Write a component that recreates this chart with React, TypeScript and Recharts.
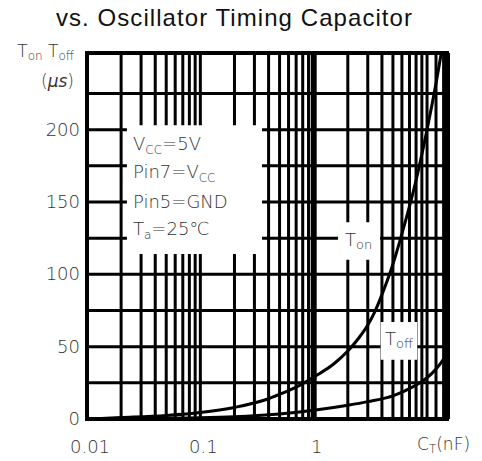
import React from "react";
import {
  LineChart,
  Line,
  XAxis,
  YAxis,
  CartesianGrid,
  ReferenceArea,
  ReferenceLine,
} from "recharts";

// Capacitance C_T (nF) sample points and timing values (µs)
const tOnCap = [0.01, 0.02, 0.05, 0.1, 0.2, 0.4, 0.5, 0.7, 1, 1.5, 2, 2.5, 3, 3.5, 4, 5, 6, 8, 10, 12, 14];
const tOnValues = [0, 1, 2.5, 4.5, 8, 14, 17, 22, 29, 38, 47, 56, 65, 75, 86, 107, 128, 165, 200, 232, 262];

const tOffCap = [0.01, 0.1, 0.2, 0.5, 1, 2, 3, 5, 7, 9, 10, 12, 14, 15];
const tOffValues = [0, 0.8, 1.5, 3.5, 6, 9.5, 12, 16, 21, 26, 28.5, 34.5, 41.5, 45.5];

const xTicks = [
  0.01, 0.02, 0.03, 0.04, 0.05, 0.06, 0.07, 0.08, 0.09,
  0.1, 0.2, 0.3, 0.4, 0.5, 0.6, 0.7, 0.8, 0.9,
  1, 2, 3, 4, 5, 6, 7, 8, 9, 10, 12, 14,
];
const xLabelTicks = [0.01, 0.1, 1];
const xLabels = ["0.01", "0.1", "1"];

const yTicks = [0, 25, 50, 75, 100, 125, 150, 175, 200, 225];
const yLabelTicks = [0, 50, 100, 150, 200];

const xDomain: [number, number] = [0.01, 15];
const yDomain: [number, number] = [0, 253];

const tOnData = tOnCap.map((c, i) => ({ c, v: tOnValues[i] }));
const tOffData = tOffCap.map((c, i) => ({ c, v: tOffValues[i] }));

const FONT = "DejaVu Sans, sans-serif";
const GRAY = "#333";
const WEIGHT = 300;

const XTick = (props: any) => {
  const { x, y, payload } = props;
  const idx = xLabelTicks.indexOf(payload.value);
  if (idx < 0) return <g />;
  return (
    <text x={x + 3} y={y + 26} textAnchor="middle" fontFamily={FONT} fontWeight={WEIGHT} fontSize={18} fill={GRAY}>
      {xLabels[idx]}
    </text>
  );
};

const YTick = (props: any) => {
  const { x, y, payload } = props;
  if (!yLabelTicks.includes(payload.value)) return <g />;
  return (
    <text x={x + 1} y={y} dy={6} textAnchor="end" fontFamily={FONT} fontWeight={WEIGHT} fontSize={18} fill={GRAY}>
      {payload.value}
    </text>
  );
};

export default function App() {
  return (
    <div style={{ position: "absolute", left: 0, top: 0, width: 482, height: 461, background: "#fff" }}>
      <LineChart
        width={482}
        height={461}
        margin={{ top: 53, right: 35, bottom: 0, left: 0 }}
      >
        <CartesianGrid stroke="#000" strokeWidth={3} />
        <XAxis
          dataKey="c"
          type="number"
          scale="log"
          domain={xDomain}
          ticks={xTicks}
          interval={0}
          allowDataOverflow
          axisLine={false}
          tickLine={false}
          height={42}
          tick={<XTick />}
        />
        <YAxis
          type="number"
          domain={yDomain}
          ticks={yTicks}
          interval={0}
          allowDataOverflow
          axisLine={false}
          tickLine={false}
          width={87}
          tick={<YTick />}
        />
        <ReferenceArea x1={0.0225} x2={0.35} y1={114} y2={203} fill="#fff" fillOpacity={1} stroke="none" />
        <ReferenceArea x1={1.64} x2={3.85} y1={110} y2={136} fill="#fff" fillOpacity={1} stroke="none" />
        <ReferenceArea x1={3.9} x2={8.2} y1={41} y2={67} fill="#fff" fillOpacity={1} stroke="none" />
        <ReferenceLine x={1} stroke="#000" strokeWidth={6} />
        <ReferenceArea x1={xDomain[0]} x2={xDomain[1]} y1={yDomain[0]} y2={yDomain[1]} fill="none" stroke="#000" strokeWidth={4} />
        <ReferenceLine x={15} stroke="#000" strokeWidth={6} />
        <Line
          data={tOnData}
          dataKey="v"
          type="monotone"
          stroke="#000"
          strokeWidth={3}
          dot={false}
          isAnimationActive={false}
        />
        <Line
          data={tOffData}
          dataKey="v"
          type="monotone"
          stroke="#000"
          strokeWidth={3}
          dot={false}
          isAnimationActive={false}
        />
      </LineChart>
      <svg
        width={482}
        height={461}
        style={{ position: "absolute", left: 0, top: 0, pointerEvents: "none" }}
      >
        <text
          x={234}
          y={26}
          textAnchor="middle"
          fontFamily="Liberation Sans, Arial, sans-serif"
          fontSize={24}
          textLength={356}
          lengthAdjust="spacing"
          fill="#111"
        >
          vs. Oscillator Timing Capacitor
        </text>
        <g fontFamily={FONT} fontWeight={WEIGHT} fill={GRAY}>
          <text x={74} y={57} textAnchor="end" fontSize={17}>
            T<tspan fontSize={12} dy={3}>on</tspan>
            <tspan fontSize={17} dy={-3}> T</tspan>
            <tspan fontSize={12} dy={3}>off</tspan>
          </text>
          <text x={74} y={87} textAnchor="end" fontSize={17}>
            (<tspan fontStyle="italic">μs</tspan>)
          </text>
        </g>
        <g fontFamily={FONT} fontWeight={WEIGHT} fontSize={18} fill={GRAY}>
          <text x={133} y={150}>
            V<tspan fontSize={12} dy={4}>CC</tspan>
            <tspan dy={-4}>=5V</tspan>
          </text>
          <text x={133} y={178}>
            Pin7=V<tspan fontSize={12} dy={4}>CC</tspan>
          </text>
          <text x={133} y={208}>Pin5=GND</text>
          <text x={133} y={235}>
            T<tspan fontSize={12} dy={4}>a</tspan>
            <tspan dy={-4}>=25℃</tspan>
          </text>
          <text x={345} y={246}>
            T<tspan fontSize={13} dy={3}>on</tspan>
          </text>
          <text x={385} y={345}>
            T<tspan fontSize={13} dy={3}>off</tspan>
          </text>
          <text x={417} y={450} fontSize={17}>
            C<tspan fontSize={12} dy={3}>T</tspan>
            <tspan dy={-3} fontSize={17}>(nF)</tspan>
          </text>
        </g>
      </svg>
    </div>
  );
}
